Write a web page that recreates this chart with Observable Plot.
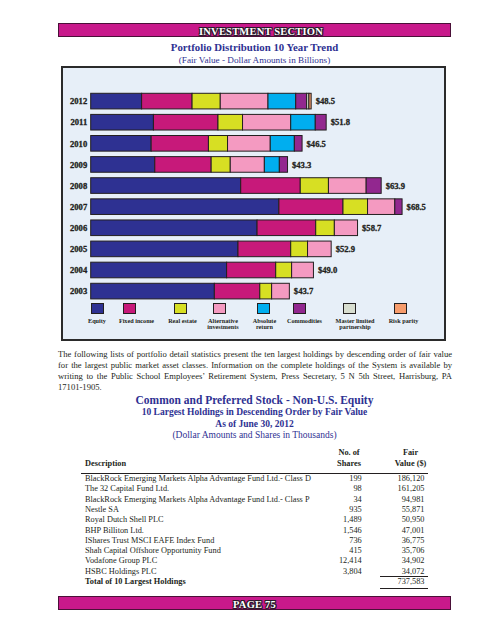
<!DOCTYPE html>
<html><head><meta charset="utf-8">
<script src="https://cdn.jsdelivr.net/npm/d3@7"></script>
<script src="https://cdn.jsdelivr.net/npm/@observablehq/plot@0.6"></script>
<style>
html,body{margin:0;padding:0;background:#fff;}
body{width:495px;height:640px;position:relative;overflow:hidden;font-family:"Liberation Serif","Times New Roman",serif;color:#231f20;}
.abs{position:absolute;white-space:nowrap;}
.band{position:absolute;left:58px;width:393px;height:14px;background:#c8198b;border:1px solid #4a1038;box-sizing:border-box;text-align:center;line-height:12px;}
.bandtext{font-family:"Liberation Serif",serif;font-weight:bold;font-size:10.5px;color:#fff;letter-spacing:0.2px;
 text-shadow:1px 0 #2a1a2a,-1px 0 #2a1a2a,0 1px #2a1a2a,0 -1px #2a1a2a,1px 1px #2a1a2a,-1px -1px #2a1a2a,1px -1px #2a1a2a,-1px 1px #2a1a2a;}
.navy{color:#2e3192;}
.center{left:58px;width:393px;text-align:center;}
.pline{position:absolute;left:58px;width:394px;font-size:8.6px;line-height:11px;text-align:justify;text-align-last:justify;white-space:nowrap;}
.trow{position:absolute;font-size:8.3px;line-height:10px;white-space:nowrap;}
.box{position:absolute;left:61px;top:66px;width:385px;height:275px;border:2px solid #2b2b2b;background:#e7eff8;box-sizing:border-box;}
.sw{position:absolute;width:13px;height:11px;border:1px solid #231f20;box-sizing:border-box;}
.lg{position:absolute;width:60px;font-size:6.2px;line-height:6.3px;font-weight:bold;text-align:center;white-space:nowrap;color:#231f20;}
.rule{position:absolute;height:0;border-top:1px solid #231f20;}
</style></head>
<body>
<div class="band" style="top:23px;"><span class="bandtext" style="padding-left:13px;">INVESTMENT SECTION</span></div>
<div class="abs center navy" style="top:41px;font-size:10.8px;line-height:13px;font-weight:bold;">Portfolio Distribution 10 Year Trend</div>
<div class="abs center navy" style="top:54.5px;font-size:9.2px;line-height:11px;">(Fair Value - Dollar Amounts in Billions)</div>
<div class="box"></div>
<div id="chart" class="abs" style="left:62px;top:68px;width:383px;"></div>
<div id="legend"></div>
<div id="para"></div>
<div class="abs center navy" style="top:393.5px;font-size:11.5px;line-height:13px;font-weight:bold;">Common and Preferred Stock - Non-U.S. Equity</div>
<div class="abs center navy" style="top:406.8px;font-size:9.5px;line-height:11px;font-weight:bold;">10 Largest Holdings in Descending Order by Fair Value</div>
<div class="abs center navy" style="top:418.5px;font-size:9.5px;line-height:11px;font-weight:bold;">As of June 30, 2012</div>
<div class="abs center navy" style="top:429.8px;font-size:9.5px;line-height:11px;">(Dollar Amounts and Shares in Thousands)</div>
<div id="table"></div>
<div class="band" style="top:596px;"><span class="bandtext">PAGE 75</span></div>
<script>
// ---- chart data (billions of dollars) ----
const years = ["2012","2011","2010","2009","2008","2007","2006","2005","2004","2003"];
const assetClasses = ["Equity","Fixed income","Real estate","Alternative investments","Absolute return","Commodities","Master limited partnership","Risk parity"];
const classColors = ["#2e3192","#c7197a","#d7df23","#f49ac1","#00aeef","#92278f","#d8ded0","#f79c6c"];
const equity = [11.2, 13.8, 13.3, 14.1, 33.0, 41.4, 36.6, 32.4, 29.9, 27.2];
const fixedIncome = [11.1, 14.2, 12.6, 12.4, 13.1, 14.1, 12.9, 11.6, 10.8, 10.0];
const realEstate = [6.2, 5.4, 4.2, 4.2, 6.2, 5.4, 4.1, 3.7, 3.5, 2.6];
const alternativeInvestments = [10.5, 10.6, 9.4, 7.5, 8.3, 6.0, 5.1, 5.2, 4.8, 3.9];
const absoluteReturn = [6.1, 5.4, 5.3, 3.3, 0, 0, 0, 0, 0, 0];
const commodities = [2.4, 2.4, 1.7, 1.8, 3.3, 1.6, 0, 0, 0, 0];
const masterLimitedPartnership = [0.5, 0, 0, 0, 0, 0, 0, 0, 0, 0];
const riskParity = [0.5, 0, 0, 0, 0, 0, 0, 0, 0, 0];
const totals = [48.5, 51.8, 46.5, 43.3, 63.9, 68.5, 58.7, 52.9, 49.0, 43.7];
const legendLabels = ["Equity","Fixed income","Real estate","Alternative\ninvestments","Absolute\nreturn","Commodities","Master limited\npartnership","Risk parity"];

// ---- text / table data ----
const paragraphLines = [
 "The following lists of portfolio detail statistics present the ten largest holdings by descending order of fair value",
 "for the largest public market asset classes. Information on the complete holdings of the System is available by",
 "writing to the Public School Employees\u2019 Retirement System, Press Secretary, 5 N 5th Street, Harrisburg, PA",
 "17101-1905."
];
const holdings = ["BlackRock Emerging Markets Alpha Advantage Fund Ltd.- Class D","The 32 Capital Fund Ltd.","BlackRock Emerging Markets Alpha Advantage Fund Ltd.- Class P","Nestle SA","Royal Dutch Shell PLC","BHP Billiton Ltd.","IShares Trust MSCI EAFE Index Fund","Shah Capital Offshore Opportunity Fund","Vodafone Group PLC","HSBC Holdings PLC"];
const shares = ["199","98","34","935","1,489","1,546","736","415","12,414","3,804"];
const fairValues = ["186,120","161,205","94,981","55,871","50,950","47,001","36,775","35,706","34,902","34,072"];
const totalLabel = "Total of 10 Largest Holdings";
const totalValue = "737,583";

// ---- build chart ----
const series = [equity, fixedIncome, realEstate, alternativeInvestments, absoluteReturn, commodities, masterLimitedPartnership, riskParity];
const rows = [];
years.forEach((year, i) => series.forEach((s, k) => { if (s[i] > 0) rows.push({year, cls: assetClasses[k], value: s[i]}); }));
const totalRows = years.map((year, i) => ({year, total: totals[i]}));

const chart = Plot.plot({
  width: 383, height: 238,
  marginLeft: 28.7, marginRight: 36.1, marginTop: 19.8, marginBottom: 1.6,
  x: {domain: [0, 70], axis: null},
  y: {domain: years, padding: 0.26, round: false, tickSize: 0, tickPadding: 4, label: null},
  color: {domain: assetClasses, range: classColors},
  style: {background: "transparent", fontFamily: "'Liberation Serif', serif", fontSize: "8.6px", fontWeight: "bold", color: "#231f20", overflow: "visible"},
  marks: [
    Plot.barX(rows, {x: "value", y: "year", fill: "cls", stroke: "#231f20", strokeWidth: 1}),
    Plot.text(totalRows, {x: "total", y: "year", text: d => "$" + d.total.toFixed(1), textAnchor: "start", dx: 4, fill: "#231f20", stroke: "#231f20", strokeWidth: 0.3})
  ]
});
chart.querySelectorAll("g[aria-label='y-axis tick label'] text").forEach(t => { t.setAttribute("stroke", "#231f20"); t.setAttribute("stroke-width", "0.3"); });
document.getElementById("chart").appendChild(chart);

// ---- legend (HTML) ----
const swatchLeft = [91, 123, 174, 213, 257, 293, 343, 394];
const labelCenter = [97, 136.5, 182.5, 223, 264.5, 304.5, 355, 403.5];
const legend = document.getElementById("legend");
assetClasses.forEach((c, i) => {
  const sw = document.createElement("div");
  sw.className = "sw"; sw.style.left = swatchLeft[i] + "px"; sw.style.top = "303px"; sw.style.background = classColors[i];
  legend.appendChild(sw);
  const lb = document.createElement("div");
  lb.className = "lg"; lb.style.left = (labelCenter[i] - 30) + "px"; lb.style.top = "318px";
  lb.innerHTML = legendLabels[i].split("\n").join("<br>");
  legend.appendChild(lb);
});

// ---- paragraph ----
const para = document.getElementById("para");
paragraphLines.forEach((line, i) => {
  const d = document.createElement("div");
  d.className = "pline"; d.style.top = (348.5 + 11 * i) + "px";
  if (i === paragraphLines.length - 1) d.style.textAlignLast = "left";
  d.textContent = line; para.appendChild(d);
});

// ---- table ----
const table = document.getElementById("table");
function cell(text, left, right, top, bold) {
  const d = document.createElement("div");
  d.className = "trow";
  if (left != null) d.style.left = left + "px";
  if (right != null) { d.style.right = (495 - right) + "px"; d.style.textAlign = "right"; }
  d.style.top = top + "px";
  if (bold) d.style.fontWeight = "bold";
  d.textContent = text; table.appendChild(d); return d;
}
function centered(text, cx, top) {
  const d = cell(text, cx - 30, null, top, true); d.style.width = "60px"; d.style.textAlign = "center";
}
centered("No. of", 349, 447.5);
centered("Fair", 410.5, 447.5);
cell("Description", 85, null, 459.3, true);
centered("Shares", 349, 459.3);
centered("Value ($)", 410.5, 459.3);
const hr = document.createElement("div"); hr.className = "rule"; hr.style.left = "81px"; hr.style.width = "347px"; hr.style.top = "473px"; table.appendChild(hr);
holdings.forEach((h, i) => {
  const top = 474 + 10.3 * i;
  cell(h, 85, null, top, false);
  cell(shares[i], null, 361.7, top, false);
  cell(fairValues[i], null, 424.5, top, false);
});
cell(totalLabel, 85, null, 577.3, true);
cell(totalValue, null, 424.5, 577.3, false);
[576, 587.5].forEach(y => { const r = document.createElement("div"); r.className = "rule"; r.style.left = "380px"; r.style.width = "48px"; r.style.top = y + "px"; table.appendChild(r); });
</script>
</body></html>
